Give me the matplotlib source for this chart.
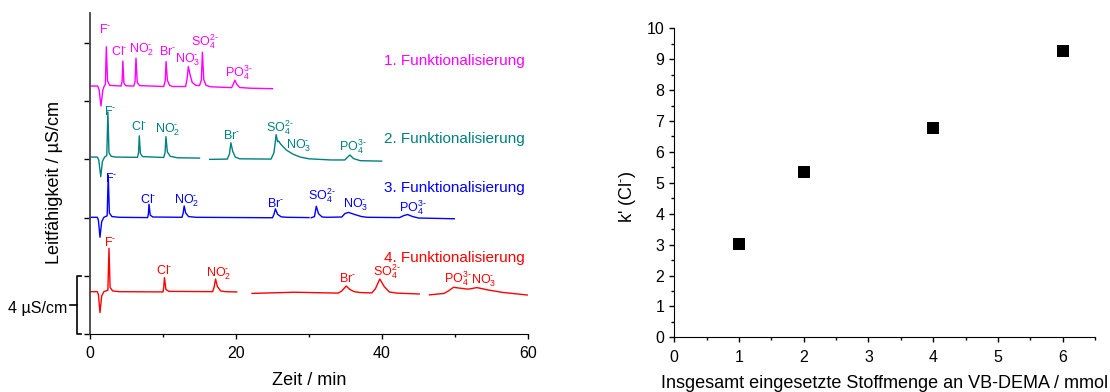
import numpy as np
import matplotlib
matplotlib.use('Agg')
import matplotlib.pyplot as plt
import matplotlib.transforms as mtransforms
from matplotlib.ticker import MultipleLocator, NullFormatter, NullLocator

plt.rcParams['font.family'] = ['Liberation Sans', 'DejaVu Sans']
plt.rcParams['mathtext.fontset'] = 'custom'
plt.rcParams['mathtext.rm'] = 'Liberation Sans'
plt.rcParams['mathtext.it'] = 'Liberation Sans:italic'
plt.rcParams['mathtext.bf'] = 'Liberation Sans:bold'
plt.rcParams['mathtext.default'] = 'regular'

nan = np.nan
H_ = '\u2010'  # short hyphen used as charge sign

# ---------------- chromatogram data (time / min, signal / µS/cm) ----------------
trace_names = ['1. Funktionalisierung', '2. Funktionalisierung',
               '3. Funktionalisierung', '4. Funktionalisierung']
trace_colors = ['#FF00FF', '#008080', '#0000FF', '#FF0000']
trace_offsets = [17.04, 12.16, 8.02, 2.91]

time_1 = [0, 1.05, 1.25, 1.5, 1.75, 1.95, 2.1, 2.24, 2.4, 2.7, 4.25, 4.4, 4.5, 4.65, 4.9,
          6.0, 6.17, 6.3, 6.47, 6.8, 10.1, 10.3, 10.42, 10.6, 10.9, 11.3, 13.1, 13.3, 13.47,
          13.7, 14.0, 14.5, 15.0, 15.25, 15.4, 15.58, 15.9, 16.5, 19.4, 19.65, 19.85, 20.1,
          20.5, 22.0, 25.0]
signal_1 = [0, 0, -0.25, -1.37, -0.3, 0.0, 0.1, 2.70, 0.35, 0.05, 0.0, 0.3, 1.72, 0.2, 0.02,
            0.0, 0.3, 1.92, 0.25, 0.03, -0.03, 0.35, 1.68, 0.4, 0.05, -0.03, -0.03, 0.5, 1.34,
            0.8, 0.25, 0.05, 0.03, 0.4, 2.33, 0.45, 0.05, -0.05, -0.11, 0.15, 0.40, 0.12,
            -0.1, -0.15, -0.18]

time_2 = [0, 1.0, 1.2, 1.47, 1.7, 2.0, 2.3, 2.45, 2.6, 2.9, 3.5, 6.5, 6.65, 6.75, 6.9, 7.2,
          10.1, 10.28, 10.4, 10.6, 11.0, 12.0, 15.0, 15.01, 16.4, 18.8, 19.1, 19.3, 19.55,
          19.9, 20.5, 24.8, 25.2, 25.5, 25.7, 25.85, 26.1, 26.9, 27.8, 28.8, 30.0, 33.0,
          34.9, 35.2, 35.6, 36.1, 37.0, 39.95]
signal_2 = [0, 0, -0.2, -1.35, -0.3, 0.0, 0.1, 3.1, 0.3, 0.05, 0.0, -0.02, 0.3, 1.46, 0.25,
            0.03, -0.03, 0.3, 1.4, 0.35, 0.05, -0.05, -0.07, nan, -0.16, -0.14, 0.2, 0.98,
            0.4, 0.0, -0.12, -0.14, 0.3, 1.54, 1.05, 1.1, 0.9, 0.48, 0.2, 0.0, -0.12, -0.2,
            -0.2, -0.05, 0.14, -0.1, -0.25, -0.28]

time_3 = [0, 1.0, 1.15, 1.37, 1.6, 1.9, 2.35, 2.5, 2.65, 3.0, 4.0, 7.9, 8.0, 8.08, 8.25, 8.6,
          12.6, 12.75, 12.9, 13.1, 13.5, 14.5, 25.0, 25.2, 25.4, 25.7, 26.2, 27.0, 30.0,
          30.1, 30.3, 30.75, 31.0, 31.3, 31.8, 32.5, 34.5, 34.9, 35.4, 36.2, 37.2, 38.0,
          42.4, 43.0, 43.5, 44.2, 45.0, 49.9]
signal_3 = [0, 0, -0.2, -1.37, -0.3, 0.0, 0.1, 2.9, 0.3, 0.05, 0.0, -0.02, 0.25, 0.9, 0.15,
            0.02, 0.0, 0.25, 0.78, 0.3, 0.05, 0.0, -0.03, 0.2, 0.58, 0.2, 0.03, 0.0, -0.02,
            nan, -0.03, 0.05, 0.76, 0.25, 0.02, 0.0, 0.02, 0.25, 0.34, 0.2, 0.05, 0.0,
            -0.02, 0.12, 0.19, 0.05, -0.05, -0.1]

time_4 = [0, 1.0, 1.15, 1.37, 1.6, 1.9, 2.45, 2.6, 2.75, 3.1, 4.0, 10.0, 10.1, 10.2, 10.4,
          10.8, 16.8, 17.0, 17.2, 17.45, 17.9, 18.5, 20.1, 20.2, 22.2, 28.0, 34.0, 34.5,
          35.1, 35.6, 36.2, 37.0, 38.6, 39.1, 39.7, 40.3, 41.0, 42.0, 45.1, 45.2, 46.5,
          48.5, 49.1, 49.8, 50.5, 51.8, 53.0, 54.5, 56.5, 59.9]
signal_4 = [0, 0, -0.2, -1.44, -0.3, 0.0, 0.1, 2.98, 0.3, 0.05, 0.0, -0.02, 0.3, 0.96, 0.15,
            0.02, 0.0, 0.3, 0.87, 0.35, 0.05, 0.0, -0.02, nan, -0.12, -0.04, -0.1, 0.05,
            0.39, 0.15, 0.0, -0.06, -0.09, 0.2, 0.87, 0.35, -0.02, -0.1, -0.16, nan, -0.22,
            -0.12, 0.05, 0.30, 0.25, 0.17, 0.28, 0.12, -0.05, -0.23]

trace_times = [time_1, time_2, time_3, time_4]
trace_signals = [signal_1, signal_2, signal_3, signal_4]

F_ = 'F$^{' + H_ + '}$'
CL_ = 'Cl$^{' + H_ + '}$'
BR_ = 'Br$^{' + H_ + '}$'
NO2_ = 'NO$_2^{' + H_ + '}$'
NO3_ = 'NO$_3^{' + H_ + '}$'
SO4_ = 'SO$_4^{2' + H_ + '}$'
PO4_ = 'PO$_4^{3' + H_ + '}$'

# ion labels: (text, time, level)
ion_labels_1 = [(F_, 2.10, 20.67), (CL_, 4.07, 19.18), (NO2_, 7.05, 19.33),
                (BR_, 10.58, 19.18), (NO3_, 13.4, 18.65),
                (SO4_, 15.71, 19.81), (PO4_, 20.44, 17.73)]
ion_labels_2 = [(F_, 2.71, 15.05), (CL_, 6.79, 14.02), (NO2_, 10.67, 13.86),
                (BR_, 19.37, 13.38), (SO4_, 26.03, 13.90),
                (NO3_, 28.64, 12.76), (PO4_, 35.95, 12.60)]
ion_labels_3 = [(F_, 2.84, 10.47), (CL_, 7.95, 9.02), (NO2_, 13.25, 8.98),
                (BR_, 25.45, 8.75), (SO4_, 31.69, 9.21),
                (NO3_, 36.37, 8.68), (PO4_, 44.22, 8.41)]
ion_labels_4 = [(F_, 2.74, 6.05), (CL_, 10.11, 4.10), (NO2_, 17.6, 3.94),
                (BR_, 35.27, 3.59), (SO4_, 40.59, 3.99),
                (PO4_, 50.35, 3.53), (NO3_, 53.95, 3.48)]
ion_labels = [ion_labels_1, ion_labels_2, ion_labels_3, ion_labels_4]
name_levels = [18.49, 13.15, 9.74, 4.97]

scale_bar_value = 4  # µS/cm

# ---------------- k' data ----------------
vbdema_mmol = [1, 2, 4, 6]
k_cl = [3.02, 5.34, 6.77, 9.27]

# ---------------- figure ----------------
W, H = 1110, 392
fig = plt.figure(figsize=(W / 100, H / 100), dpi=100)

ax1 = fig.add_axes([90 / W, 1 - 334 / H, 438 / W, 321 / H])
for i in range(4):
    t = np.array(trace_times[i], dtype=float)
    s = np.array(trace_signals[i], dtype=float) + trace_offsets[i]
    ax1.plot(t, s, color=trace_colors[i], lw=1.0, solid_joinstyle='round')
    for txt, tx, ty in ion_labels[i]:
        ax1.text(tx, ty, txt, color=trace_colors[i], fontsize=9, ha='center', va='baseline')
    ax1.text(59.6, name_levels[i], trace_names[i], color=trace_colors[i], fontsize=11,
             ha='right', va='baseline')

ax1.set_xlim(0, 60)
ax1.set_ylim(0, 22.06)
ax1.spines['top'].set_visible(False)
ax1.spines['right'].set_visible(False)
ax1.spines['left'].set_color('#444444')
ax1.spines['left'].set_linewidth(1.3)
ax1.xaxis.set_major_locator(MultipleLocator(20))
ax1.xaxis.set_minor_locator(MultipleLocator(10))
ax1.yaxis.set_major_locator(MultipleLocator(4))
ax1.yaxis.set_major_formatter(NullFormatter())
ax1.yaxis.set_minor_locator(NullLocator())
ax1.tick_params(axis='x', which='major', direction='out', length=3.8, width=1, labelsize=11.5, pad=5)
ax1.tick_params(axis='x', which='minor', direction='out', length=1.9, width=1)
ax1.tick_params(axis='y', which='major', direction='out', length=4.5, width=1)

# scale bar bracket
trans = mtransforms.blended_transform_factory(ax1.transAxes, ax1.transData)
xb, xt, xm = (76.7 - 90) / 438, (81 - 90) / 438, (70 - 90) / 438
ax1.plot([xt, xb, xb, xt], [0, 0, scale_bar_value, scale_bar_value], transform=trans,
         clip_on=False, color='black', lw=1.2)
ax1.plot([xm, xb], [scale_bar_value / 2, scale_bar_value / 2], transform=trans,
         clip_on=False, color='black', lw=1.2)
ax1.text((67 - 90) / 438, 1.42, '4 µS/cm', transform=trans, ha='right',
         va='baseline', fontsize=11.5)

fig.text(55 / W, 1 - 183 / H, 'Leitfähigkeit / µS/cm', rotation=90, ha='center', va='center',
         fontsize=13)
fig.text(309 / W, 1 - 385 / H, 'Zeit / min', ha='center', va='baseline', fontsize=13)

# right panel
ax2 = fig.add_axes([674.3 / W, 1 - 337.3 / H, (1095 - 674.3) / W, (337.3 - 28.3) / H])
ax2.plot(vbdema_mmol, k_cl, 's', color='black', ms=8.8, mew=0)
ax2.set_xlim(0, 6.5)
ax2.set_ylim(0, 10)
ax2.spines['top'].set_visible(False)
ax2.spines['right'].set_visible(False)
ax2.xaxis.set_major_locator(MultipleLocator(1))
ax2.xaxis.set_minor_locator(MultipleLocator(0.5))
ax2.yaxis.set_major_locator(MultipleLocator(1))
ax2.yaxis.set_minor_locator(MultipleLocator(0.5))
ax2.tick_params(which='major', direction='out', length=3.8, width=1, labelsize=11.5)
ax2.tick_params(which='minor', direction='out', length=2.0, width=1)
ax2.tick_params(axis='x', pad=5)

fig.text(627.3 / W, 1 - 196.5 / H, "k' (Cl$^{" + H_ + "}$)", rotation=90, ha='center',
         va='center', fontsize=13)
fig.text(884.8 / W, 1 - 388.3 / H, 'Insgesamt eingesetzte Stoffmenge an VB-DEMA / mmol',
         ha='center', va='baseline', fontsize=13)

fig.savefig('out.png', dpi=100)
